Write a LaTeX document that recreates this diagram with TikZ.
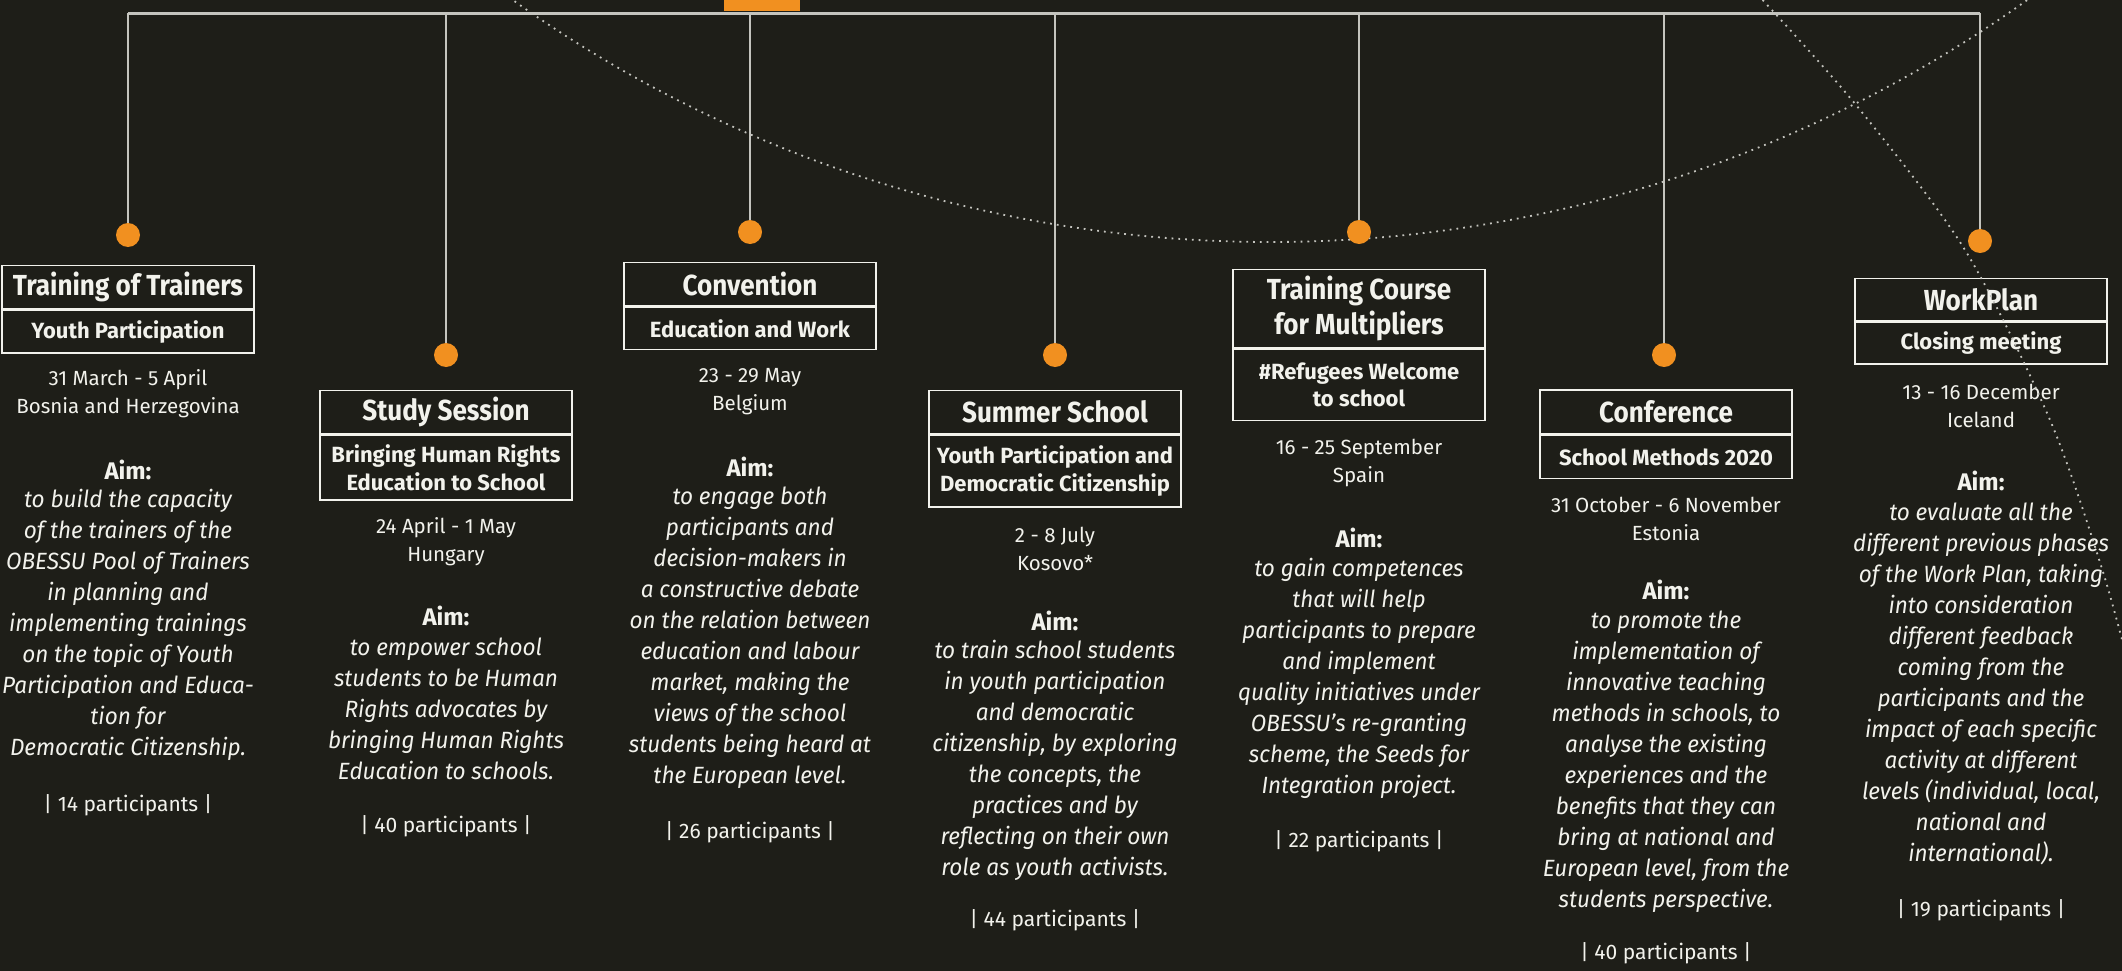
\documentclass[tikz,border=0pt]{standalone}
\usepackage{fontspec}
\setmainfont{Fira Sans}
\newfontfamily\headfont{Fira Sans}[FakeStretch=0.9]
\newfontfamily\aimfont{Fira Sans}[FakeStretch=0.96]
\usetikzlibrary{positioning}

\definecolor{bgdark}{RGB}{30,30,24}
\definecolor{obessuorange}{RGB}{241,144,32}
\definecolor{linegrey}{RGB}{196,196,190}
\definecolor{textwhite}{RGB}{242,242,236}

\begin{document}
\begin{tikzpicture}[x=1pt,y=-1pt,
	titlebox/.style={draw=textwhite,line width=1.6pt,minimum width=252pt,minimum height=43pt,inner sep=0pt,align=center,text=textwhite,font=\headfont\bfseries\fontsize{29}{34.5}\selectfont},
	subbox/.style={draw=textwhite,line width=1.6pt,minimum width=252pt,minimum height=43pt,inner sep=0pt,align=center,text=textwhite,font=\bfseries\fontsize{22}{27.5}\selectfont},
	dot/.style={circle,fill=obessuorange,minimum size=24pt,inner sep=0pt},
	stem/.style={draw=linegrey,line width=2pt},
	rail/.style={draw=linegrey,line width=3pt},
	orbit/.style={draw=linegrey,line width=1.8pt,dash pattern=on 1.8pt off 5pt},
	datetext/.style={align=center,inner sep=0pt,text=textwhite,font=\fontsize{20.5}{28}\selectfont},
	aimhead/.style={inner sep=0pt,text=textwhite,font=\bfseries\fontsize{24}{28}\selectfont},
	aimtext/.style={align=center,inner sep=0pt,text=textwhite,font=\aimfont\itshape\fontsize{23.5}{31}\selectfont},
	count/.style={inner sep=0pt,text=textwhite,font=\fontsize{21}{25}\selectfont}]
	\fill[bgdark] (0,0) rectangle (2122,971);
	\useasboundingbox (0,0) rectangle (2122,971);
	\clip (0,0) rectangle (2122,971);
	% big arc behind the timeline
	\draw[orbit] (1270,-1063) circle[radius=1305pt];
	\fill[obessuorange] (724,0) rectangle (800,11);

	\coordinate (T1) at (128,13.5);
	\coordinate (T2) at (446,13.5);
	\coordinate (T3) at (750,13.5);
	\coordinate (T4) at (1055,13.5);
	\coordinate (T5) at (1359,13.5);
	\coordinate (T6) at (1664,13.5);
	\coordinate (T7) at (1980,13.5);
	\node[dot] (D1) at (128,235) {};
	\node[dot] (D2) at (446,355) {};
	\node[dot] (D3) at (750,232) {};
	\node[dot] (D4) at (1055,355) {};
	\node[dot] (D5) at (1359,232) {};
	\node[dot] (D6) at (1664,355) {};
	\node[dot] (D7) at (1980,241) {};
	\draw[rail] (T1) -- (T7);
	\draw[stem] (T1) -- (D1.north);
	\draw[stem] (T2) -- (D2.north);
	\draw[stem] (T3) -- (D3.north);
	\draw[stem] (T4) -- (D4.north);
	\draw[stem] (T5) -- (D5.north);
	\draw[stem] (T6) -- (D6.north);
	\draw[stem] (T7) -- (D7.north);

	% Training of Trainers
	\node[titlebox] (TT) at (128,287) {Training of Trainers};
	\node[subbox,below=0pt of TT] (TTsub) {Youth Participation};
	\node[datetext] (TTdate) at (128,394) {31 March - 5 April\\Bosnia and Herzegovina};
	\node[aimhead] (TTaim) at (128,470) {Aim:};
	\node[aimtext] (TTtext) at (128,625) {to build the capacity\\of the trainers of the\\OBESSU Pool of Trainers\\in planning and\\implementing trainings\\on the topic of Youth\\Participation and Educa-\\tion for\\Democratic Citizenship.};
	\node[count] (TTcount) at (128,805) {| 14 participants |};

	% Study Session
	\node[titlebox] (SS) at (446,412) {Study Session};
	\node[subbox,minimum height=65pt,below=0pt of SS] (SSsub) {Bringing Human Rights\\Education to School};
	\node[datetext] (SSdate) at (446,541.5) {24 April - 1 May\\Hungary};
	\node[aimhead] (SSaim) at (446,615.5) {Aim:};
	\node[aimtext] (SStext) at (446,709) {to empower school\\students to be Human\\Rights advocates by\\bringing Human Rights\\Education to schools.};
	\node[count] (SScount) at (446,826) {| 40 participants |};

	% Convention
	\node[titlebox] (CV) at (750,284) {Convention};
	\node[subbox,minimum height=42.5pt,below=0pt of CV] (CVsub) {Education and Work};
	\node[datetext] (CVdate) at (750,391.5) {23 - 29 May\\Belgium};
	\node[aimhead] (CVaim) at (750,467) {Aim:};
	\node[aimtext] (CVtext) at (750,638) {to engage both\\participants and\\decision-makers in\\a constructive debate\\on the relation between\\education and labour\\market, making the\\views of the school\\students being heard at\\the European level.};
	\node[count] (CVcount) at (750,832.5) {| 26 participants |};

	% Summer School
	\node[titlebox] (SU) at (1055,412) {Summer School};
	\node[subbox,minimum height=72pt,below=0pt of SU] (SUsub) {Youth Participation and\\Democratic Citizenship};
	\node[datetext] (SUdate) at (1055,549) {2 - 8 July\\Kosovo*};
	\node[aimhead] (SUaim) at (1055,620.5) {Aim:};
	\node[aimtext] (SUtext) at (1055,760.5) {to train school students\\in youth participation\\and democratic\\citizenship, by exploring\\the concepts, the\\practices and by\\reflecting on their own\\role as youth activists.};
	\node[count] (SUcount) at (1055,920.5) {| 44 participants |};

	% Training Course for Multipliers
	\node[titlebox,minimum height=78pt] (TC) at (1359,308.5) {Training Course\\for Multipliers};
	\node[subbox,minimum height=71.5pt,below=0pt of TC] (TCsub) {\#Refugees Welcome\\to school};
	\node[datetext] (TCdate) at (1359,463) {16 - 25 September\\Spain};
	\node[aimhead] (TCaim) at (1359,537.5) {Aim:};
	\node[aimtext] (TCtext) at (1359,678) {to gain competences\\that will help\\participants to prepare\\and implement\\quality initiatives under\\OBESSU’s re-granting\\scheme, the Seeds for\\Integration project.};
	\node[count] (TCcount) at (1359,841.5) {| 22 participants |};

	% Conference
	\node[titlebox,minimum height=44pt] (CF) at (1666,412) {Conference};
	\node[subbox,below=0pt of CF] (CFsub) {School Methods 2020};
	\node[datetext] (CFdate) at (1666,519) {31 October - 6 November\\Estonia};
	\node[aimhead] (CFaim) at (1666,590) {Aim:};
	\node[aimtext] (CFtext) at (1666,761.5) {to promote the\\implementation of\\innovative teaching\\methods in schools, to\\analyse the existing\\experiences and the\\benefits that they can\\bring at national and\\European level, from the\\students perspective.};
	\node[count] (CFcount) at (1666,953) {| 40 participants |};

	% WorkPlan
	\node[titlebox,minimum height=42pt] (WP) at (1981,299.5) {WorkPlan};
	\node[subbox,minimum height=42pt,below=0pt of WP] (WPsub) {Closing meeting};
	\node[datetext] (WPdate) at (1981,406) {13 - 16 December\\Iceland};
	\node[aimhead] (WPaim) at (1981,481) {Aim:};
	\node[aimtext] (WPtext) at (1981,683.5) {to evaluate all the\\different previous phases\\of the Work Plan, taking\\into consideration\\different feedback\\coming from the\\participants and the\\impact of each specific\\activity at different\\levels (individual, local,\\national and\\international).};
	\node[count] (WPcount) at (1981,910.5) {| 19 participants |};

	% second arc, over the last column
	\draw[orbit] plot[smooth] coordinates {(1758,-5) (1856,105) (1965,250) (2050,420) (2103,572) (2135,690)};
\end{tikzpicture}
\end{document}
